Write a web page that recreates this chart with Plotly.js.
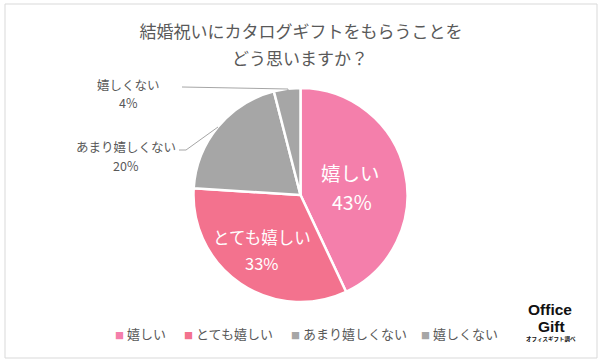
<!DOCTYPE html>
<html>
<head>
<meta charset="utf-8">
<script src="https://cdn.plot.ly/plotly-3.0.1.min.js"></script>
<style>html,body{margin:0;padding:0;background:#fff;}#chart{width:602px;height:363px;}</style>
</head>
<body>
<div id="chart"></div>
<script>
const categories = ['嬉しい', 'とても嬉しい', 'あまり嬉しくない', '嬉しくない'];
const values = [43, 33, 20, 4];
const colors = ['#F47FAB', '#F3728E', '#A6A6A6', '#A6A6A6'];
const titleLine1 = '結婚祝いにカタログギフトをもらうことを';
const titleLine2 = 'どう思いますか？';

const W = 602, H = 363;
const px = x => x / W;
const py = y => 1 - y / H;
const FONT = '"Noto Sans CJK JP", "Noto Sans", sans-serif';
const LOGO = '"Liberation Sans", Arial, sans-serif';
const GREY = '#595959';

const trace = {
  type: 'pie',
  labels: categories,
  values: values,
  sort: false,
  direction: 'clockwise',
  rotation: 0,
  marker: { colors: colors, line: { color: '#ffffff', width: 2.5 } },
  textposition: 'none',
  hoverinfo: 'label+percent',
  showlegend: false,
  domain: { x: [px(193), px(408)], y: [py(302), py(88)] }
};

// label layout: [labelX, labelY, pctX, pctY, size, color]
const labelPos = [
  [350, 172, 352, 202, 19.5, '#ffffff'],
  [262, 237, 262, 263, 16.5, '#ffffff'],
  [126, 146, 126, 166, 12.5, GREY],
  [128, 84, 128, 103, 12.5, GREY]
];
const annotations = [];
categories.forEach((c, i) => {
  const p = labelPos[i];
  annotations.push(
    { xref: 'paper', yref: 'paper', x: px(p[0]), y: py(p[1]), text: c, showarrow: false,
      font: { family: FONT, size: p[4], color: p[5] }, xanchor: 'center', yanchor: 'middle' },
    { xref: 'paper', yref: 'paper', x: px(p[2]), y: py(p[3]), text: values[i] + '%', showarrow: false,
      font: { family: FONT, size: p[4], color: p[5] }, xanchor: 'center', yanchor: 'middle' }
  );
});

// legend entries
const legendX = [113, 182, 289, 419];
categories.forEach((c, i) => {
  annotations.push({
    xref: 'paper', yref: 'paper', x: px(legendX[i]), y: py(333),
    text: '<span style="color:' + colors[i] + ';font-size:9px">■</span> ' + c,
    showarrow: false, font: { family: FONT, size: 13, color: GREY },
    xanchor: 'left', yanchor: 'middle'
  });
});

annotations.push(
  { xref: 'paper', yref: 'paper', x: px(300), y: py(57), text: titleLine2, showarrow: false,
    font: { family: FONT, size: 17, color: GREY }, xanchor: 'center', yanchor: 'middle' },
  { xref: 'paper', yref: 'paper', x: px(550), y: py(309), text: '<b>Office</b>', showarrow: false,
    font: { family: LOGO, size: 15.5, color: '#111' }, xanchor: 'center', yanchor: 'middle' },
  { xref: 'paper', yref: 'paper', x: px(551), y: py(326), text: '<b>Gift</b>', showarrow: false,
    font: { family: LOGO, size: 15.5, color: '#111' }, xanchor: 'center', yanchor: 'middle' },
  { xref: 'paper', yref: 'paper', x: px(551), y: py(338.5), text: '<b>オフィスギフト調べ</b>', showarrow: false,
    font: { family: FONT, size: 5.5, color: '#111' }, xanchor: 'center', yanchor: 'middle' }
);

const shapes = [
  { type: 'rect', xref: 'paper', yref: 'paper', x0: px(5), x1: px(597), y0: py(358), y1: py(4),
    line: { color: '#D9D9D9', width: 1 } },
  { type: 'path', xref: 'paper', yref: 'paper',
    path: 'M ' + px(182) + ' ' + py(87) + ' L ' + px(288) + ' ' + py(89) + ' L ' + px(288) + ' ' + py(90),
    line: { color: '#A6A6A6', width: 1 } },
  { type: 'path', xref: 'paper', yref: 'paper',
    path: 'M ' + px(179) + ' ' + py(150) + ' L ' + px(186) + ' ' + py(150) + ' L ' + px(218) + ' ' + py(127),
    line: { color: '#A6A6A6', width: 1 } }
];

const layout = {
  width: W, height: H,
  margin: { l: 0, r: 0, t: 0, b: 0 },
  paper_bgcolor: '#ffffff',
  title: {
    text: titleLine1,
    font: { family: FONT, size: 17, color: GREY },
    x: 0.5, xanchor: 'center', y: py(32), yanchor: 'middle', yref: 'container'
  },
  showlegend: false,
  annotations: annotations,
  shapes: shapes
};

Plotly.newPlot('chart', [trace], layout, { displayModeBar: false, staticPlot: true });
</script>
</body>
</html>
